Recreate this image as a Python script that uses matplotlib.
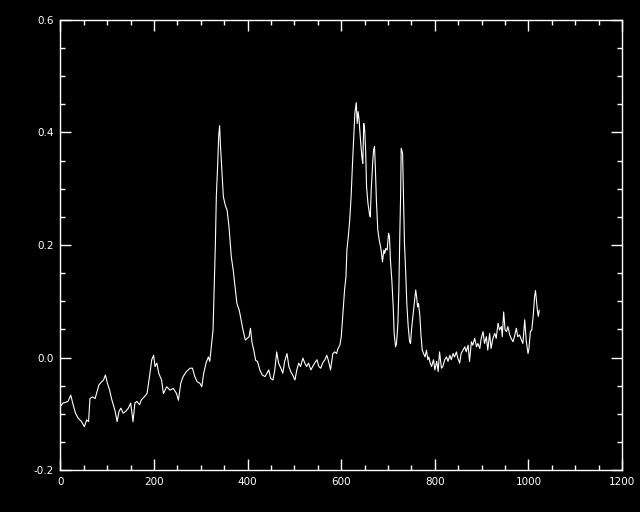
import numpy as np
import matplotlib
matplotlib.use("Agg")
import matplotlib.pyplot as plt
from matplotlib.ticker import MultipleLocator, FormatStrFormatter

# spectrum (channel, value)
channel = [0, 5, 10, 16, 22, 27, 32, 38, 45, 51, 56, 60, 63, 68, 74, 77, 82, 88, 92, 96,
           100, 105, 109, 114, 117, 121, 125, 129, 134, 139, 145, 150, 155, 159, 163, 169,
           173, 179, 185, 190, 195, 199, 202, 206, 210, 216, 220, 227, 234, 241, 248, 252,
           257, 262, 269, 277, 282, 287, 292, 298, 302, 306, 311, 316, 319, 323, 326, 328,
           331, 333, 336, 338, 340, 342, 344, 348, 352, 356, 360, 365, 369, 373, 377, 382,
           386, 390, 395, 399, 403, 406, 409, 413, 417, 421, 426, 431, 437, 441, 445, 449,
           454, 458, 462, 466, 471, 475, 479, 484, 488, 492, 496, 501, 505, 509, 513, 518,
           522, 526, 530, 535, 539, 543, 548, 552, 556, 560, 565, 569, 573, 577, 582, 586,
           590, 593, 597, 600, 602, 605, 607, 610, 612, 615, 618, 621, 624, 627, 629, 632,
           634, 636, 638, 641, 644, 646, 648, 650, 652, 654, 657, 660, 662, 664, 667, 669,
           671, 673, 675, 678, 681, 684, 686, 688, 691, 693, 695, 698, 701, 703, 705, 708,
           711, 713, 716, 718, 721, 723, 725, 727, 728, 731, 733, 735, 738, 740, 743, 746,
           748, 750, 753, 756, 759, 761, 763, 765, 768, 770, 773, 776, 779, 782, 785, 787,
           790, 793, 797, 800, 804, 807, 810, 814, 817, 821, 825, 828, 832, 835, 839, 842,
           846, 849, 853, 856, 860, 864, 867, 871, 874, 878, 881, 885, 889, 892, 896, 899,
           903, 906, 910, 913, 917, 920, 924, 928, 931, 935, 938, 942, 944, 947, 950, 953,
           956, 960, 963, 967, 970, 974, 977, 981, 985, 988, 992, 995, 999, 1001, 1004, 1007,
           1010, 1013, 1015, 1017, 1019, 1021, 1023]
value = [-0.087, -0.081, -0.080, -0.078, -0.067, -0.084, -0.099, -0.108, -0.114, -0.123,
         -0.111, -0.114, -0.073, -0.070, -0.073, -0.064, -0.049, -0.043, -0.040, -0.031,
         -0.045, -0.058, -0.073, -0.087, -0.096, -0.114, -0.096, -0.090, -0.099, -0.096,
         -0.090, -0.081, -0.114, -0.081, -0.078, -0.084, -0.075, -0.070, -0.064, -0.035,
         -0.004, 0.004, -0.016, -0.010, -0.028, -0.040, -0.064, -0.052, -0.058, -0.055,
         -0.064, -0.076, -0.046, -0.034, -0.025, -0.019, -0.019, -0.034, -0.043, -0.046,
         -0.052, -0.028, -0.010, 0.001, -0.007, 0.025, 0.049, 0.108, 0.203, 0.286, 0.345,
         0.393, 0.412, 0.375, 0.345, 0.286, 0.271, 0.262, 0.233, 0.179, 0.156, 0.126,
         0.096, 0.084, 0.067, 0.049, 0.031, 0.034, 0.037, 0.052, 0.028, 0.013, -0.005,
         -0.007, -0.022, -0.031, -0.034, -0.028, -0.022, -0.037, -0.040, -0.022, 0.010,
         -0.010, -0.019, -0.028, -0.007, 0.007, -0.016, -0.025, -0.031, -0.040, -0.022,
         -0.010, -0.016, -0.001, -0.010, -0.016, -0.010, -0.022, -0.016, -0.010, -0.004,
         -0.016, -0.019, -0.010, -0.004, 0.004, -0.007, -0.022, 0.007, 0.010, 0.007,
         0.016, 0.022, 0.037, 0.061, 0.096, 0.120, 0.144, 0.191, 0.215, 0.244, 0.286,
         0.345, 0.399, 0.434, 0.453, 0.416, 0.437, 0.423, 0.387, 0.357, 0.345, 0.416,
         0.405, 0.369, 0.304, 0.274, 0.256, 0.250, 0.298, 0.345, 0.369, 0.375, 0.333,
         0.280, 0.227, 0.209, 0.197, 0.185, 0.170, 0.191, 0.185, 0.194, 0.191, 0.221,
         0.215, 0.173, 0.138, 0.090, 0.043, 0.019, 0.025, 0.061, 0.120, 0.215, 0.298,
         0.372, 0.363, 0.286, 0.203, 0.144, 0.096, 0.055, 0.028, 0.025, 0.049, 0.073,
         0.096, 0.120, 0.108, 0.090, 0.096, 0.073, 0.043, 0.013, 0.007, 0.001, 0.013,
         -0.004, 0.001, -0.010, -0.016, -0.004, -0.022, -0.007, -0.025, 0.010, -0.019,
         -0.016, -0.004, 0.001, -0.007, 0.004, -0.004, 0.007, 0.001, 0.010, -0.001,
         -0.010, 0.007, 0.013, 0.019, 0.010, 0.022, -0.007, 0.028, 0.022, 0.034, 0.019,
         0.025, 0.016, 0.034, 0.046, 0.025, 0.037, 0.013, 0.043, 0.016, 0.034, 0.043,
         0.034, 0.061, 0.049, 0.055, 0.037, 0.081, 0.049, 0.046, 0.055, 0.040, 0.034,
         0.028, 0.037, 0.052, 0.037, 0.040, 0.031, 0.025, 0.067, 0.031, 0.007, 0.016,
         0.046, 0.049, 0.073, 0.108, 0.119, 0.102, 0.084, 0.073, 0.084]

fig = plt.figure(figsize=(6.4, 5.12), dpi=100, facecolor="black")
ax = fig.add_axes([0.0945, 0.082, 0.8775, 0.879], facecolor="black")

ax.plot(channel, value, color="white", linewidth=0.8)

ax.set_xlim(0, 1200)
ax.set_ylim(-0.2, 0.6)
ax.xaxis.set_major_locator(MultipleLocator(200))
ax.xaxis.set_minor_locator(MultipleLocator(50))
ax.yaxis.set_major_locator(MultipleLocator(0.2))
ax.yaxis.set_minor_locator(MultipleLocator(0.05))
ax.yaxis.set_major_formatter(FormatStrFormatter("%.1f"))

for s in ax.spines.values():
    s.set_color("white")
    s.set_linewidth(1.0)
ax.tick_params(which="both", direction="in", colors="white", top=True, right=True,
               labelsize=7.5, width=1.0)
ax.tick_params(which="major", length=8, pad=5)
ax.tick_params(which="minor", length=3.8)

fig.savefig("out.png", dpi=100, facecolor="black")
